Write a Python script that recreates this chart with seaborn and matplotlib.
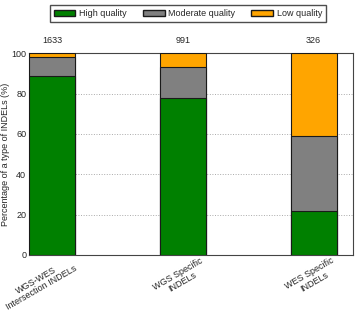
import pandas as pd
import matplotlib
matplotlib.use("Agg")
import matplotlib.pyplot as plt
import seaborn as sns
from matplotlib.patches import Patch

groups = ["WGS-WES\nIntersection INDELs", "WGS Specific\nINDELs", "WES Specific\nINDELs"]
counts = [1633, 991, 326]
high = [89, 78, 22]
moderate = [9, 15, 37]
low = [2, 7, 41]

df = pd.DataFrame({"group": groups, "high": high, "moderate": moderate, "low": low})
df["hm"] = df["high"] + df["moderate"]
df["total"] = df["hm"] + df["low"]

sns.set_style("white")
plt.rcParams["font.family"] = ["Liberation Sans", "DejaVu Sans"]
FS = 6.5

fig, ax = plt.subplots(figsize=(3.58, 3.12), dpi=100)
fig.subplots_adjust(left=0.081, right=0.986, top=0.829, bottom=0.183)

kw = dict(x="group", width=0.35, edgecolor="#1a1a1a", linewidth=0.8, ax=ax,
          saturation=1, zorder=3)
sns.barplot(data=df, y="total", color="#FFA500", **kw)
sns.barplot(data=df, y="hm", color="#808080", **kw)
sns.barplot(data=df, y="high", color="#008000", **kw)

ax.set_xlim(-0.175, 2.3)
ax.set_ylim(0, 100)
ax.set_yticks(range(0, 101, 20))
ax.set_yticklabels([str(v) for v in range(0, 101, 20)], fontsize=FS)
ax.yaxis.grid(True, linestyle=":", color="#aaaaaa", linewidth=0.7, zorder=0)
ax.set_axisbelow(True)
ax.set_xlabel("")
ax.set_ylabel("Percentage of a type of INDELs (%)", fontsize=FS, labelpad=1)
# labels hang from just past the right edge of each bar
ax.set_xticks([i + 0.2 for i in range(len(groups))])
ax.set_xticklabels(groups, rotation=30, ha="right", multialignment="center",
                   fontsize=FS, linespacing=1.0)
ax.tick_params(axis="both", length=0, pad=2)
ax.tick_params(axis="x", pad=1)
for s in ax.spines.values():
    s.set_color("#444444")
    s.set_linewidth(0.8)

for i, c in enumerate(counts):
    ax.text(i, 105, str(c), ha="center", va="baseline", fontsize=FS)

handles = [Patch(facecolor="#008000", edgecolor="#1a1a1a", label="High quality"),
           Patch(facecolor="#808080", edgecolor="#1a1a1a", label="Moderate quality"),
           Patch(facecolor="#FFA500", edgecolor="#1a1a1a", label="Low quality")]
fig.legend(handles=handles, loc="upper center", bbox_to_anchor=(0.525, 0.997), ncol=3,
           fontsize=FS, frameon=True, fancybox=False, edgecolor="#222222",
           handlelength=2.4, handleheight=0.6, handletextpad=0.4,
           columnspacing=1.8, borderpad=0.4)

fig.savefig("out.png", dpi=100)
